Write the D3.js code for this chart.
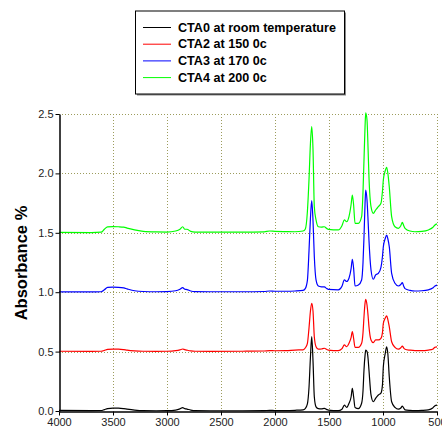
<!DOCTYPE html>
<html><head><meta charset="utf-8">
<script src="https://cdn.jsdelivr.net/npm/d3@7"></script>
<style>body{margin:0;background:#fff}svg{display:block}</style>
</head><body>
<svg id="c" width="442" height="434"></svg>
<script>
const wavenumbers = [4000,3700,3610,3580,3550,3500,3450,3400,3370,3300,3220,3100,3000,2920,2880,2855,2835,2815,2780,2740,2600,2300,2100,2050,2000,1900,1815,1740,1720,1700,1685,1672,1660,1648,1636,1620,1599,1570,1543,1520,1506,1414,1380,1358,1336,1315,1295,1284,1272,1259,1228,1198,1185,1176,1166,1160,1148,1138,1130,1111,1090,1068,1043,1019,1005,997,980,966,955,942,920,889,858,835,821,808,796,750,704,640,580,540,519,500];
const cta0 = [0.005,0.003,0.004,0.012,0.020,0.024,0.024,0.020,0.016,0.008,0.003,0.002,0.003,0.008,0.018,0.028,0.020,0.016,0.008,0.003,0.002,0.002,0.003,0.005,0.004,0.004,0.006,0.010,0.020,0.060,0.200,0.450,0.626,0.420,0.120,0.035,0.020,0.018,0.022,0.012,0.008,0.003,0.015,0.050,0.030,0.065,0.120,0.190,0.120,0.030,0.020,0.065,0.170,0.345,0.470,0.513,0.500,0.440,0.345,0.135,0.078,0.107,0.135,0.150,0.220,0.373,0.480,0.541,0.480,0.289,0.078,0.030,0.015,0.025,0.042,0.025,0.010,0.005,0.003,0.005,0.010,0.025,0.045,0.050];
const cta2 = [0.503,0.502,0.503,0.510,0.518,0.520,0.520,0.516,0.512,0.506,0.503,0.502,0.503,0.508,0.515,0.522,0.516,0.512,0.506,0.503,0.502,0.503,0.505,0.508,0.507,0.508,0.513,0.515,0.530,0.570,0.700,0.840,0.906,0.840,0.625,0.541,0.520,0.522,0.528,0.518,0.513,0.508,0.525,0.556,0.541,0.570,0.620,0.668,0.612,0.536,0.536,0.570,0.660,0.794,0.910,0.940,0.892,0.800,0.710,0.598,0.575,0.598,0.598,0.612,0.660,0.738,0.780,0.800,0.770,0.710,0.583,0.536,0.520,0.532,0.547,0.530,0.520,0.512,0.508,0.508,0.513,0.520,0.536,0.540];
const cta3 = [1.003,1.002,1.004,1.020,1.040,1.042,1.041,1.036,1.028,1.012,1.006,1.004,1.005,1.012,1.025,1.038,1.025,1.022,1.010,1.005,1.004,1.004,1.006,1.010,1.008,1.008,1.010,1.015,1.030,1.100,1.350,1.620,1.770,1.600,1.300,1.103,1.052,1.045,1.044,1.030,1.024,1.020,1.050,1.103,1.090,1.117,1.200,1.277,1.201,1.052,1.060,1.103,1.250,1.467,1.750,1.860,1.776,1.600,1.440,1.187,1.109,1.145,1.159,1.210,1.300,1.383,1.450,1.481,1.450,1.383,1.159,1.075,1.052,1.065,1.080,1.050,1.030,1.015,1.010,1.012,1.020,1.035,1.052,1.060];
const cta4 = [1.503,1.502,1.505,1.530,1.550,1.552,1.551,1.548,1.540,1.525,1.512,1.507,1.506,1.515,1.530,1.551,1.530,1.530,1.512,1.506,1.505,1.505,1.508,1.515,1.512,1.510,1.509,1.515,1.530,1.680,1.950,2.250,2.393,2.200,1.720,1.608,1.551,1.548,1.551,1.535,1.529,1.524,1.560,1.608,1.593,1.636,1.740,1.818,1.734,1.580,1.580,1.636,1.850,2.113,2.400,2.510,2.449,2.200,1.972,1.720,1.664,1.692,1.720,1.748,1.850,1.944,2.020,2.051,2.000,1.888,1.636,1.551,1.538,1.560,1.588,1.560,1.538,1.515,1.509,1.512,1.524,1.545,1.566,1.575];
const seriesNames = ["CTA0 at room temperature","CTA2 at 150 0c","CTA3 at 170 0c","CTA4 at 200 0c"];
const seriesColors = ["#000000","#ff0000","#0000ff","#00ff00"];
const xTicks = [4000,3500,3000,2500,2000,1500,1000,500];
const yTicks = [0.0,0.5,1.0,1.5,2.0,2.5];
const yLabel = "Absorbance %";

const svg = d3.select("#c");
const L = 59, R = 437, T = 114, B = 411;
const x = d3.scaleLinear().domain([4000,500]).range([L,R]);
const y = d3.scaleLinear().domain([0,2.5]).range([B,T]);
const grid = "#9c9c5c";
const font = "Liberation Sans, Arial, sans-serif";

// grid
svg.append("g").selectAll("line").data(xTicks.slice(1)).join("line")
  .attr("x1",d=>x(d)+0.5).attr("x2",d=>x(d)+0.5).attr("y1",T).attr("y2",B)
  .attr("stroke",grid).attr("stroke-dasharray","1,2").attr("stroke-width",1);
svg.append("g").selectAll("line").data(yTicks.slice(1)).join("line")
  .attr("y1",d=>Math.round(y(d))+0.5).attr("y2",d=>Math.round(y(d))+0.5).attr("x1",L).attr("x2",R)
  .attr("stroke",grid).attr("stroke-dasharray","1,2").attr("stroke-width",1);

// lines
const allSeries = [cta0,cta2,cta3,cta4];
const line = d3.line().x((d,i)=>x(wavenumbers[i])).y(d=>y(d)).curve(d3.curveMonotoneX);
allSeries.forEach((s,k)=>{
  svg.append("path").datum(s).attr("d",line).attr("fill","none")
    .attr("stroke",seriesColors[k]).attr("stroke-width",1.2);
});

// axes
const xa = svg.append("g").attr("transform",`translate(0,${B+0.5})`)
  .call(d3.axisBottom(x).tickValues(xTicks).tickSize(4).tickSizeOuter(0).tickFormat(d3.format("d")));
const ya = svg.append("g").attr("transform",`translate(${L+0.5},0)`)
  .call(d3.axisLeft(y).tickValues(yTicks).tickSize(4).tickSizeOuter(0).tickFormat(d3.format(".1f")));
[xa,ya].forEach(a=>{
  a.select(".domain").attr("stroke","#000").attr("stroke-width",1.5);
  a.selectAll(".tick line").attr("stroke","#000");
  a.selectAll("text").attr("font-family",font).attr("font-size",11).attr("fill","#222");
});
xa.selectAll("text").attr("dy","0").attr("y",14);
ya.selectAll("text").attr("x",-6);

// y label
svg.append("text").attr("transform",`translate(27,263) rotate(-90)`)
  .attr("text-anchor","middle").attr("font-family",font)
  .attr("font-weight","bold").attr("font-size",16.5).text(yLabel);

// legend
const lg = svg.append("g");
lg.append("rect").attr("x",137).attr("y",12.5).attr("width",209).attr("height",83).attr("fill","#888");
lg.append("rect").attr("x",135.5).attr("y",11).attr("width",209).attr("height",83).attr("fill","#fff").attr("stroke","#000");
seriesNames.forEach((n,i)=>{
  const yy = 27 + i*16.7;
  lg.append("line").attr("x1",143).attr("x2",171).attr("y1",yy+0.5).attr("y2",yy+0.5)
    .attr("stroke",seriesColors[i]).attr("stroke-width",1);
  lg.append("text").attr("x",178).attr("y",yy+4.5).attr("font-family",font)
    .attr("font-weight","bold").attr("font-size",12.6).text(n);
});
</script>
</body></html>
